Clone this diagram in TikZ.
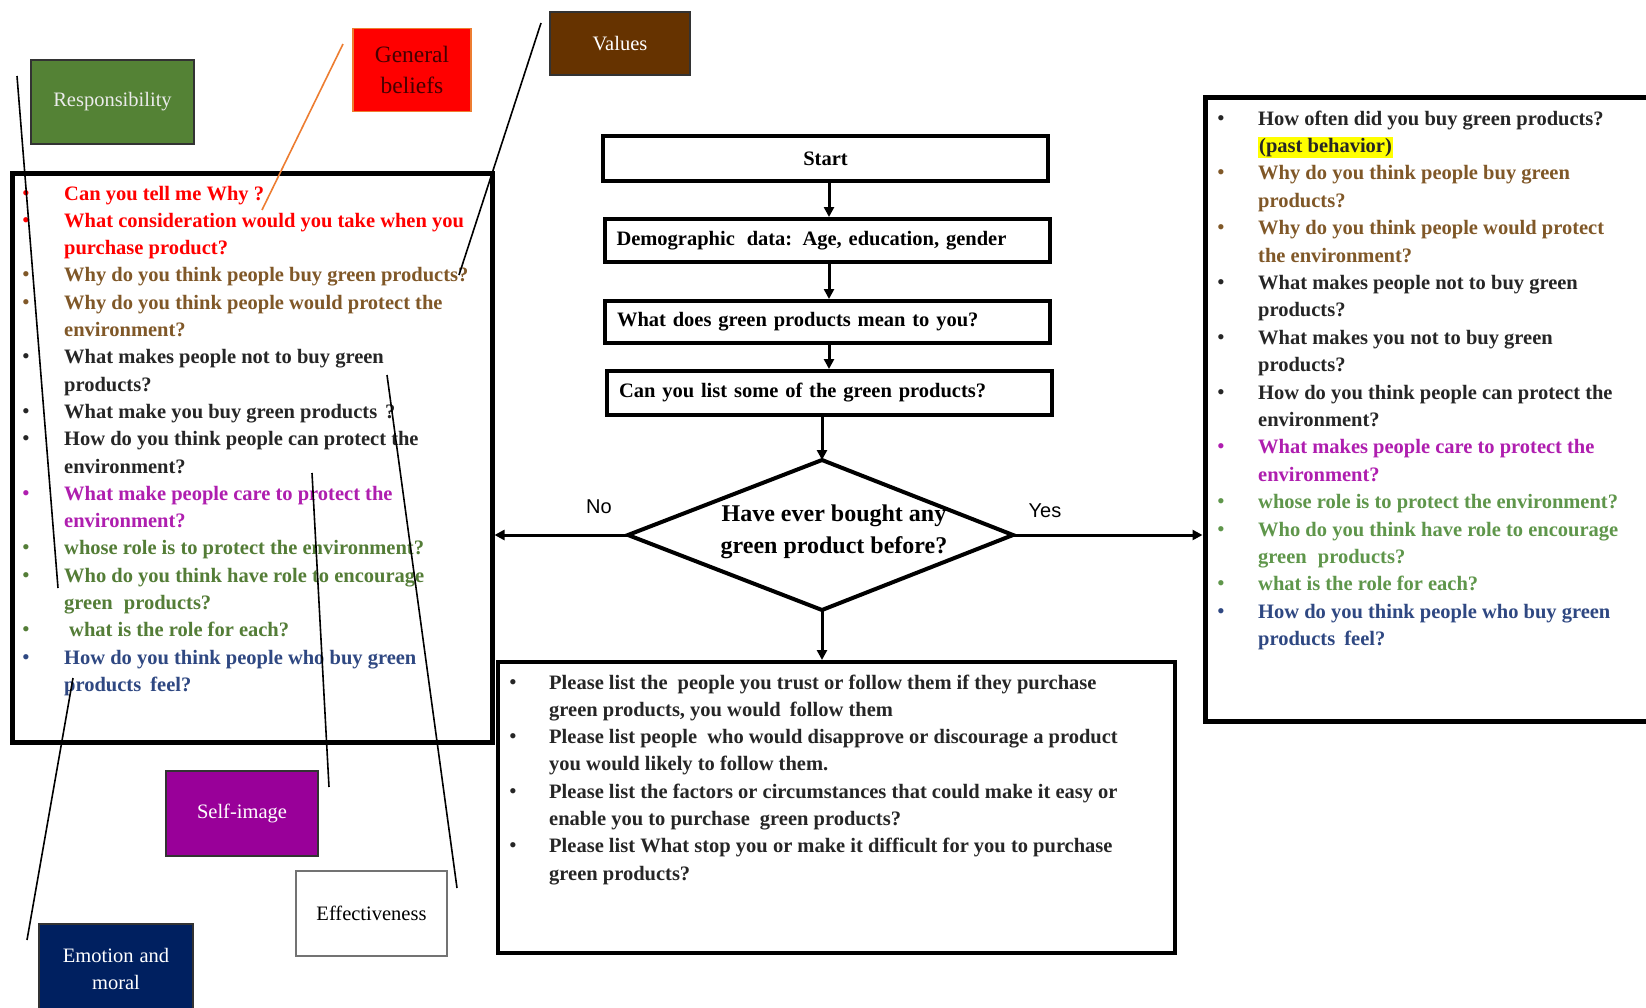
\documentclass[tikz,border=0pt]{standalone}
\usepackage{fontspec}
\setmainfont{Liberation Serif}
\newfontfamily\labelsans{Liberation Sans}
\usetikzlibrary{arrows.meta}
\setlength{\fboxsep}{1pt}

\definecolor{qred}{RGB}{255,0,0}
\definecolor{qbrown}{RGB}{128,88,40}
\definecolor{qdark}{RGB}{38,38,38}
\definecolor{qpurple}{RGB}{175,30,175}
\definecolor{qgreenL}{RGB}{84,125,55}
\definecolor{qgreenR}{RGB}{95,150,75}
\definecolor{qblue}{RGB}{47,72,130}
\definecolor{hly}{RGB}{255,255,0}
\definecolor{respfill}{RGB}{84,130,53}
\definecolor{valfill}{RGB}{102,51,0}
\definecolor{selffill}{RGB}{153,0,153}
\definecolor{emofill}{RGB}{0,32,96}
\definecolor{beliefline}{RGB}{237,125,49}

\tikzset{
  qline/.style={font=\bfseries\fontsize{20.5}{24}\selectfont, anchor=base west, inner sep=0pt},
  qdot/.style={font=\fontsize{22}{24}\selectfont, anchor=base, inner sep=0pt},
  frame/.style={draw=black, line width=5pt},
  flowbox/.style={draw=black, line width=4pt, minimum width=445pt, inner xsep=12pt,
    text width=421pt, font=\bfseries\fontsize{20.5}{24}\selectfont},
  tag/.style={draw=black!80, line width=1.5pt, align=center, inner sep=0pt,
    font=\fontsize{20.5}{27}\selectfont},
  link/.style={line width=1.6pt, draw=black},
  arr/.style={line width=3pt, draw=black, -{Triangle[length=10pt,width=10pt]}},
  yesno/.style={font=\labelsans\fontsize{20}{24}\selectfont, inner sep=0pt},
}

\begin{document}
\begin{tikzpicture}[x=1pt,y=-1pt]
\useasboundingbox (0,0) rectangle (1646,1007);
\clip (0,0) rectangle (1646,1007);
\fill[white] (0,0) rectangle (1646,1007);

% ---- question panels ----
\node[frame, minimum width=480pt, minimum height=569pt] (lbox) at (252,457.5) {};
\node[frame, minimum width=447pt, minimum height=624pt] (rbox) at (1428.5,409) {};
\node[draw=black, line width=4pt, minimum width=677pt, minimum height=291pt] (bbox) at (836.5,807.5) {};

% left panel questions
\foreach \qk/\qc/\qb/\qt in {
  0/qred/1/{Can you tell me Why ?},
  1/qred/1/{What consideration would you take when you},
  2/qred/0/{purchase product?},
  3/qbrown/1/{Why do you think people buy green products?},
  4/qbrown/1/{Why do you think people would protect the},
  5/qbrown/0/{environment?},
  6/qdark/1/{What makes people not to buy green},
  7/qdark/0/{products?},
  8/qdark/1/{What make you buy green products\hspace{8pt}?},
  9/qdark/1/{How do you think people can protect the},
  10/qdark/0/{environment?},
  11/qpurple/1/{What make people care to protect the},
  12/qpurple/0/{environment?},
  13/qgreenL/1/{whose role is to protect the environment?},
  14/qgreenL/1/{Who do you think have role to encourage},
  15/qgreenL/0/{green\hspace{6pt} products?},
  16/qgreenL/1/{\hspace*{5pt}what is the role for each?},
  17/qblue/1/{How do you think people who buy green},
  18/qblue/0/{products\hspace{4pt} feel?}}
{
  \node[qline, text=\qc] (lq\qk) at (64,{200+27.3*\qk}) {\qt};
  \ifnum\qb=1 \node[qdot, text=\qc] (lb\qk) at (26,{200+27.3*\qk}) {\textbullet}; \fi
}

% right panel questions
\foreach \qk/\qc/\qb/\qt in {
  0/qdark/1/{How often did you buy green products?},
  1/qdark/0/{\colorbox{hly}{(past behavior)}},
  2/qbrown/1/{Why do you think people buy green},
  3/qbrown/0/{products?},
  4/qbrown/1/{Why do you think people would protect},
  5/qbrown/0/{the environment?},
  6/qdark/1/{What makes people not to buy green},
  7/qdark/0/{products?},
  8/qdark/1/{What makes you not to buy green},
  9/qdark/0/{products?},
  10/qdark/1/{How do you think people can protect the},
  11/qdark/0/{environment?},
  12/qpurple/1/{What makes people care to protect the},
  13/qpurple/0/{environment?},
  14/qgreenR/1/{whose role is to protect the environment?},
  15/qgreenR/1/{Who do you think have role to encourage},
  16/qgreenR/0/{green\hspace{6pt} products?},
  17/qgreenR/1/{what is the role for each?},
  18/qblue/1/{How do you think people who buy green},
  19/qblue/0/{products\hspace{4pt} feel?}}
{
  \node[qline, text=\qc] (rq\qk) at (1258,{125+27.4*\qk}) {\qt};
  \ifnum\qb=1 \node[qdot, text=\qc] (rb\qk) at (1221,{125+27.4*\qk}) {\textbullet}; \fi
}

% bottom panel questions
\foreach \qk/\qb/\qt in {
  0/1/{Please list the\hspace{5pt} people you trust or follow them if they purchase},
  1/0/{green products, you would\hspace{4pt} follow them},
  2/1/{Please list people\hspace{5pt} who would disapprove or discourage a product},
  3/0/{you would likely to follow them.},
  4/1/{Please list the factors or circumstances that could make it easy or},
  5/0/{enable you to purchase\hspace{5pt} green products?},
  6/1/{Please list What stop you or make it difficult for you to purchase},
  7/0/{green products?}}
{
  \node[qline, text=qdark] (bq\qk) at (549,{689+27.3*\qk}) {\qt};
  \ifnum\qb=1 \node[qdot, text=qdark] (bb\qk) at (513,{689+27.3*\qk}) {\textbullet}; \fi
}

% ---- flow chart ----
\node[flowbox, align=center, minimum height=45pt] (start) at (825.5,158.5) {Start};
\node[flowbox, align=left, minimum height=43pt] (demo) at (827,240.5) {Demographic\hspace{5pt} data: Age, education, gender};
\node[flowbox, align=left, minimum height=42pt] (mean) at (827.5,322) {What does green products mean to you?};
\node[flowbox, align=left, minimum height=44pt] (list) at (829.5,393) {Can you list some of the green products?};

\coordinate (dl) at (628,535);
\coordinate (dt) at (822,460);
\coordinate (dr) at (1013,535);
\coordinate (db) at (822,610);
\draw[line width=4pt, line join=miter] (dl) -- (dt) -- (dr) -- (db) -- cycle;
\node[align=center, inner sep=0pt, font=\bfseries\fontsize{24}{32}\selectfont] (dq) at (834,532)
  {Have ever bought any\\green product before?};

\coordinate (colx) at (829,0);
\draw[arr] (start.south -| colx) -- (demo.north -| colx);
\draw[arr] (demo.south -| colx) -- (mean.north -| colx);
\draw[arr] (mean.south -| colx) -- (list.north -| colx);
\draw[arr] (list.south -| dt) -- (dt);
\draw[arr] (dl) -- (dl -| lbox.east);
\draw[arr] (dr) -- (dr -| rbox.west);
\draw[arr] (db) -- (db |- bbox.north);

\node[yesno] (no) at (599,507) {No};
\node[yesno] (yes) at (1045,511) {Yes};

% ---- construct tags ----
\node[tag, fill=respfill, text=white!92!black, minimum width=163pt, minimum height=84pt] (resp) at (112.5,102) {Responsibility};
\node[tag, fill=qred, draw=beliefline, text={rgb,255:red,70;green,0;blue,0}, minimum width=118pt, minimum height=83pt,
  font=\fontsize{23.5}{31}\selectfont] (belief) at (412,70) {General\\beliefs};
\node[tag, fill=valfill, text=white, minimum width=140pt, minimum height=63pt] (values) at (620,43.5) {Values};
\node[tag, fill=selffill, text=white, minimum width=152pt, minimum height=85pt] (self) at (242,813.5) {Self-image};
\node[tag, fill=white, draw=black!55, line width=2pt, text=black, minimum width=151pt, minimum height=85pt] (effect) at (371.5,913.5) {Effectiveness};
\node[tag, fill=emofill, text=white, minimum width=154pt, minimum height=90pt] (emo) at (116,969) {Emotion\hspace{6pt}and\\moral};

% ---- pointer lines from tags into the left panel ----
\coordinate (p1a) at (17,76);   \coordinate (p1b) at (58,588);
\coordinate (p2a) at (343,44);  \coordinate (p2b) at (262,210);
\coordinate (p3a) at (541,23);  \coordinate (p3b) at (459,275);
\coordinate (p4a) at (312,473); \coordinate (p4b) at (329,787);
\coordinate (p5a) at (387,375); \coordinate (p5b) at (457,888);
\coordinate (p6a) at (73,678);  \coordinate (p6b) at (27,940);
\draw[link] (p1a) -- (p1b);
\draw[link, draw=beliefline] (p2a) -- (p2b);
\draw[link] (p3a) -- (p3b);
\draw[link] (p4a) -- (p4b);
\draw[link] (p5a) -- (p5b);
\draw[link] (p6a) -- (p6b);
\end{tikzpicture}
\end{document}
